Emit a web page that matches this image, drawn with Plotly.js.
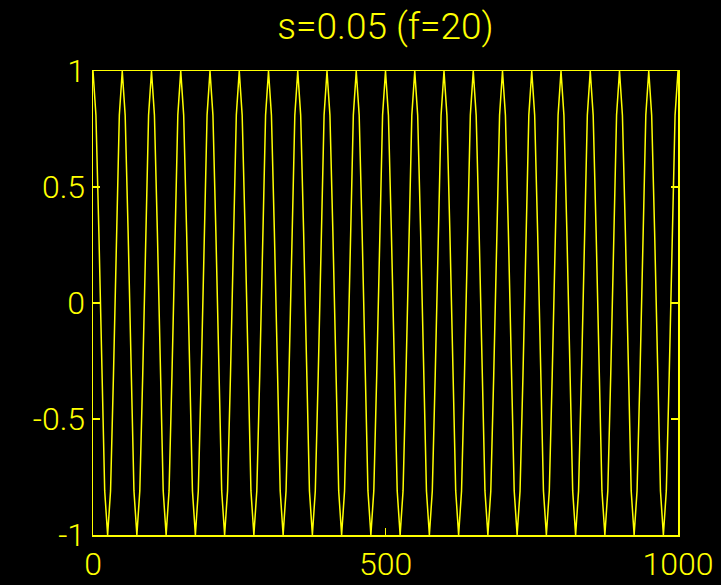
<!DOCTYPE html>
<html>
<head>
<meta charset="utf-8">
<script src="https://cdn.plot.ly/plotly-3.0.1.min.js"></script>
<style>html,body{margin:0;padding:0;background:#000;}#chart{width:721px;height:585px;}</style>
</head>
<body>
<div id="chart"></div>
<script>
// Signal: 20 cycles over 0..1000, one sample every 5 units
var titleText = "s=0.05 (f=20)";
var xStart = 0;
var xStep = 5;
var signal = [
 1, 0.81, 0.31, -0.31, -0.81, -1, -0.81, -0.31, 0.31, 0.81,
 1, 0.81, 0.31, -0.31, -0.81, -1, -0.81, -0.31, 0.31, 0.81,
 1, 0.81, 0.31, -0.31, -0.81, -1, -0.81, -0.31, 0.31, 0.81,
 1, 0.81, 0.31, -0.31, -0.81, -1, -0.81, -0.31, 0.31, 0.81,
 1, 0.81, 0.31, -0.31, -0.81, -1, -0.81, -0.31, 0.31, 0.81,
 1, 0.81, 0.31, -0.31, -0.81, -1, -0.81, -0.31, 0.31, 0.81,
 1, 0.81, 0.31, -0.31, -0.81, -1, -0.81, -0.31, 0.31, 0.81,
 1, 0.81, 0.31, -0.31, -0.81, -1, -0.81, -0.31, 0.31, 0.81,
 1, 0.81, 0.31, -0.31, -0.81, -1, -0.81, -0.31, 0.31, 0.81,
 1, 0.81, 0.31, -0.31, -0.81, -1, -0.81, -0.31, 0.31, 0.81,
 1, 0.81, 0.31, -0.31, -0.81, -1, -0.81, -0.31, 0.31, 0.81,
 1, 0.81, 0.31, -0.31, -0.81, -1, -0.81, -0.31, 0.31, 0.81,
 1, 0.81, 0.31, -0.31, -0.81, -1, -0.81, -0.31, 0.31, 0.81,
 1, 0.81, 0.31, -0.31, -0.81, -1, -0.81, -0.31, 0.31, 0.81,
 1, 0.81, 0.31, -0.31, -0.81, -1, -0.81, -0.31, 0.31, 0.81,
 1, 0.81, 0.31, -0.31, -0.81, -1, -0.81, -0.31, 0.31, 0.81,
 1, 0.81, 0.31, -0.31, -0.81, -1, -0.81, -0.31, 0.31, 0.81,
 1, 0.81, 0.31, -0.31, -0.81, -1, -0.81, -0.31, 0.31, 0.81,
 1, 0.81, 0.31, -0.31, -0.81, -1, -0.81, -0.31, 0.31, 0.81,
 1, 0.81, 0.31, -0.31, -0.81, -1, -0.81, -0.31, 0.31, 0.81,
 1
];
var xTicks = [0, 500, 1000];
var xTickText = ["0", "500", "1000"];
var yTicks = [-1, -0.5, 0, 0.5, 1];
var yTickText = ["-1", "-0.5", "0", "0.5", "1"];

var YEL = "#ffff00";
var FONT = "Roboto, Liberation Sans, Arial, sans-serif";

var trace = {
  type: "scatter",
  mode: "lines",
  x0: xStart,
  dx: xStep,
  y: signal,
  line: {color: YEL, width: 1.5},
  hoverinfo: "skip"
};

var axisCommon = {
  showline: true, linecolor: YEL, linewidth: 1.5, mirror: "ticks",
  ticks: "inside", ticklen: 7, tickwidth: 1.5, tickcolor: YEL,
  showgrid: false, zeroline: false,
  tickfont: {family: FONT, size: 32, color: YEL, weight: 300},
  tickmode: "array", fixedrange: true
};

var layout = {
  width: 721, height: 585,
  paper_bgcolor: "#000", plot_bgcolor: "#000",
  margin: {l: 93, r: 43, t: 71, b: 50, pad: 0},
  showlegend: false,
  title: {
    text: titleText,
    font: {family: FONT, size: 37, color: YEL, weight: 300},
    x: 0.5, xref: "paper", xanchor: "center",
    y: 0.955, yref: "container", yanchor: "middle"
  },
  xaxis: Object.assign({}, axisCommon, {
    range: [0, 1000], tickvals: xTicks, ticktext: xTickText, ticklabelstandoff: 0
  }),
  yaxis: Object.assign({}, axisCommon, {
    range: [-1, 1], tickvals: yTicks, ticktext: yTickText, ticklabelstandoff: 0
  })
};

Plotly.newPlot("chart", [trace], layout, {displayModeBar: false, staticPlot: true});
</script>
</body>
</html>
